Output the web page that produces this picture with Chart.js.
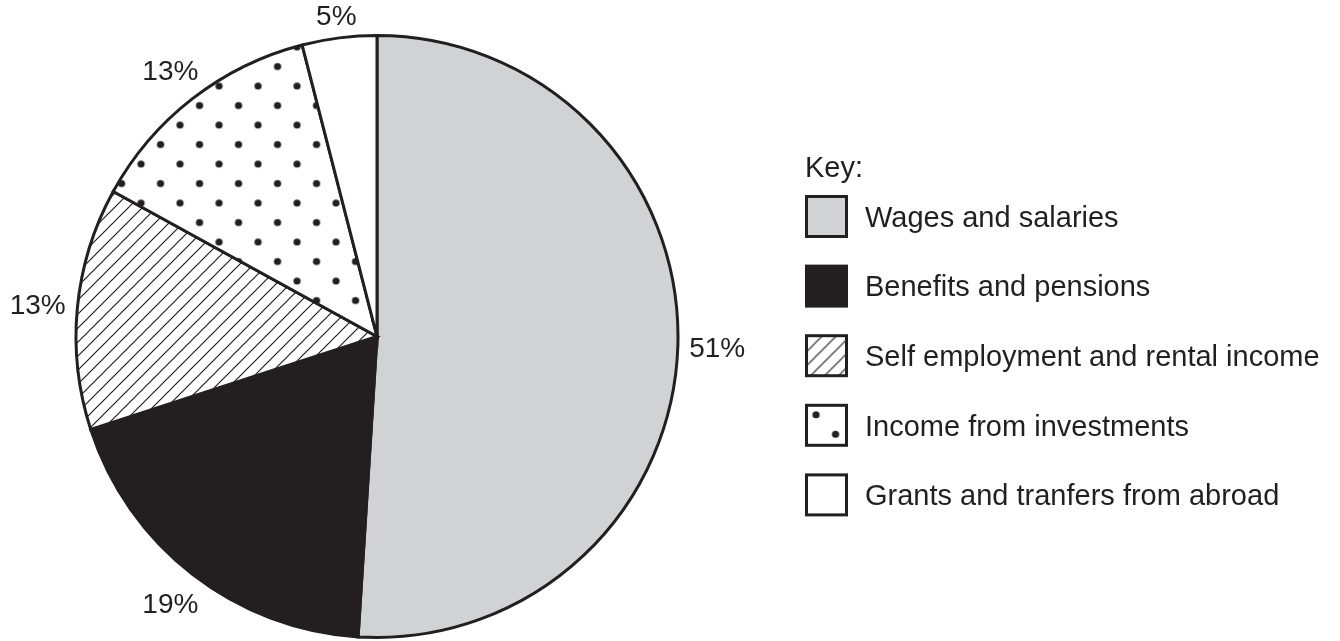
<!DOCTYPE html>
<html>
<head>
<meta charset="utf-8">
<script src="https://cdn.jsdelivr.net/npm/chart.js@4"></script>
<style>
html,body{margin:0;padding:0;background:#fff;}
#c{display:block;}
</style>
</head>
<body>
<canvas id="c" width="1340" height="641"></canvas>
<script>
// ---- data ----
const categories = ["Wages and salaries", "Benefits and pensions", "Self employment and rental income", "Income from investments", "Grants and tranfers from abroad"];
const sliceValues = [51, 19, 13, 13, 4];           // slice sizes as drawn
const percentLabels = ["51%", "19%", "13%", "13%", "5%"]; // printed labels
const keyTitle = "Key:";

// ---- styles ----
const INK = '#231f20';
const FONT = '"Liberation Sans", Arial, Helvetica, sans-serif';

function hatchPattern(ctx, ox, oy) {
  const s = 14;
  const t = document.createElement('canvas');
  t.width = s; t.height = s;
  const g = t.getContext('2d');
  g.fillStyle = '#fff'; g.fillRect(0, 0, s, s);
  g.strokeStyle = INK; g.lineWidth = 1.2;
  g.beginPath();
  g.moveTo(-2, s + 2); g.lineTo(s + 2, -2);
  g.moveTo(-2, 2); g.lineTo(2, -2);
  g.moveTo(s - 2, s + 2); g.lineTo(s + 2, s - 2);
  g.stroke();
  const p = ctx.createPattern(t, 'repeat');
  p.setTransform(new DOMMatrix().translate(ox, oy));
  return p;
}
function dotPattern(ctx, ox, oy) {
  const s = 39;
  const t = document.createElement('canvas');
  t.width = s; t.height = s;
  const g = t.getContext('2d');
  g.fillStyle = '#fff'; g.fillRect(0, 0, s, s);
  g.fillStyle = INK;
  [[9.75, 9.75], [29.25, 29.25]].forEach(([x, y]) => {
    g.beginPath(); g.arc(x, y, 3.6, 0, Math.PI * 2); g.fill();
  });
  const p = ctx.createPattern(t, 'repeat');
  p.setTransform(new DOMMatrix().translate(ox - 9.75, oy - 9.75));
  return p;
}

const canvas = document.getElementById('c');
const ctx0 = canvas.getContext('2d');
const fills = ['#d1d2d4', INK, hatchPattern(ctx0, 0, 0), dotPattern(ctx0, 24, 8), '#ffffff'];

const labelPlugin = {
  id: 'outsideLabels',
  afterDraw(chart) {
    const ctx = chart.ctx;
    const meta = chart.getDatasetMeta(0);
    ctx.save();
    ctx.fillStyle = INK;
    ctx.font = '28px ' + FONT;
    ctx.textAlign = 'center';
    ctx.textBaseline = 'alphabetic';
    const capH = 28 * 0.716;
    meta.data.forEach((arc, i) => {
      const p = arc.getProps(['x', 'y', 'startAngle', 'endAngle', 'outerRadius'], true);
      const mid = (p.startAngle + p.endAngle) / 2;
      const ux = Math.cos(mid), uy = Math.sin(mid);
      const txt = percentLabels[i];
      const w = ctx.measureText(txt).width;
      const d = p.outerRadius + 11 + Math.abs(ux) * w / 2 + Math.abs(uy) * capH / 2;
      const cx = p.x + ux * d, cy = p.y + uy * d;
      ctx.fillText(txt, cx, cy + capH / 2);
    });
    ctx.restore();

    // key / legend
    ctx.save();
    ctx.fillStyle = INK;
    ctx.font = '29px ' + FONT;
    ctx.textAlign = 'left';
    ctx.textBaseline = 'alphabetic';
    ctx.fillText(keyTitle, 805, 177);
    const bx = 806.5, bs = 40, top0 = 196.5, step = 69.6;
    const capL = 29 * 0.716;
    categories.forEach((name, i) => {
      const by = top0 + i * step;
      let f = fills[i];
      if (i === 2) f = hatchPattern(ctx, bx, by + 2);
      if (i === 3) f = dotPattern(ctx, bx + 9.5, by + 9.5);
      ctx.fillStyle = f;
      ctx.fillRect(bx, by, bs, bs);
      ctx.strokeStyle = INK;
      ctx.lineWidth = 3;
      ctx.strokeRect(bx, by, bs, bs);
      ctx.fillStyle = INK;
      ctx.fillText(name, 865, by + bs / 2 + capL / 2);
    });
    ctx.restore();
  }
};

new Chart(canvas, {
  type: 'pie',
  data: {
    labels: categories,
    datasets: [{
      data: sliceValues,
      backgroundColor: fills,
      borderColor: INK,
      borderWidth: 3,
      borderJoinStyle: 'miter'
    }]
  },
  options: {
    responsive: false,
    animation: false,
    events: [],
    layout: { padding: { left: 74, top: 34, right: 660, bottom: 2 } },
    plugins: { legend: { display: false }, tooltip: { enabled: false } }
  },
  plugins: [labelPlugin]
});
</script>
</body>
</html>
